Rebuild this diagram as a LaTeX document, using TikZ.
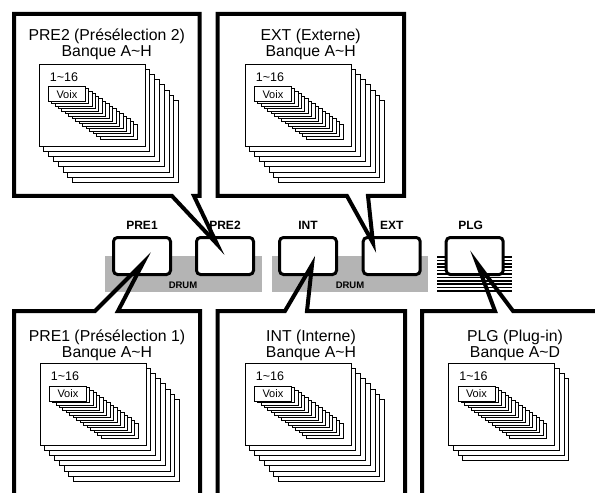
\documentclass[tikz,border=0pt]{standalone}
\usepackage{fontspec}
\setmainfont{Liberation Sans}
\usepackage{tikz}
\usetikzlibrary{positioning}
\definecolor{drumgray}{RGB}{180,180,180}

% one bank: front card at (#2,#3), #4 cards behind it
\newcommand{\bankstack}[4]{%
  \foreach \k in {#4,...,1}
    \draw[card] ({#2+4.8*\k},{#3+5.2*\k}) rectangle +(106,82);
  \draw[card] (#2,#3) rectangle +(106,82);
  \node[numtext] (#1-num) at ({#2+25},{#3+13}) {1\textasciitilde 16};
  \foreach \v in {15,...,1}
    \draw[voicecard] ({#2+9+3.47*\v},{#3+22+2.53*\v}) rectangle +(37,15);
  \node[voicecard, voixbox] (#1-voix) at ({#2+9},{#3+22.5}) {Voix};
}

\begin{document}
\begin{tikzpicture}[
  x=1bp, y=-1bp,
  btn/.style={draw, fill=white, line width=3bp, rounded corners=4bp,
    minimum width=57bp, minimum height=37bp, inner sep=0pt},
  btnlabel/.style={font=\fontsize{12bp}{12bp}\selectfont\bfseries, inner sep=0pt},
  drumlabel/.style={font=\fontsize{9.5bp}{9.5bp}\selectfont\bfseries, inner sep=0pt},
  callout/.style={line width=4bp, line join=miter},
  title/.style={font=\fontsize{15.8bp}{17bp}\selectfont, anchor=base, inner sep=0pt},
  card/.style={draw, fill=white, line width=0.9bp},
  voicecard/.style={draw, fill=white, line width=0.8bp},
  voixbox/.style={anchor=north west, minimum width=37bp, minimum height=15bp,
    inner sep=0pt, font=\fontsize{11bp}{11bp}\selectfont},
  numtext/.style={font=\fontsize{12.5bp}{12.5bp}\selectfont, inner sep=0pt},
  stripe/.style={line width=1.6bp}
]
\useasboundingbox (0,0) rectangle (595,493);
\clip (0,0) rectangle (595,493);

% DRUM bands and plug-in stripes
\fill[drumgray] (105,256) rectangle (262,292);
\fill[drumgray] (272,256) rectangle (428,292);
\node[drumlabel] (drum1) at (183,285) {DRUM};
\node[drumlabel] (drum2) at (350,285) {DRUM};
\foreach \s in {0,...,10}
  \draw[stripe] (437,{257+3.4*\s}) -- (512,{257+3.4*\s});

% buttons
\node[btn] (pre1) at (142,256) {};
\node[btn] (pre2) at (225,256) {};
\node[btn] (int) at (308,256) {};
\node[btn] (ext) at (391.7,256) {};
\node[btn] (plg) at (474.7,256) {};
\node[btnlabel, above=6.5bp of pre1] (pre1-lbl) {PRE1};
\node[btnlabel, above=6.5bp of pre2] (pre2-lbl) {PRE2};
\node[btnlabel, above=6.5bp of int] (int-lbl) {INT};
\node[btnlabel, above=6.5bp of ext] (ext-lbl) {EXT};
\node[btnlabel, above=6.5bp of plg, xshift=-4bp] (plg-lbl) {PLG};

\coordinate (pre1tip) at (143,263);
\coordinate (pre2tip) at (217,244);
\coordinate (inttip) at (312,265);
\coordinate (exttip) at (373,243);
\coordinate (plgtip) at (477,263);

% callouts, top row
\draw[callout] (172,196) -- (14,196) -- (14,14) -- (199.5,14) -- (199.5,196)
  -- (194,196) -- (pre2tip) -- cycle;
\draw[callout] (347,196) -- (217.5,196) -- (217.5,14) -- (404,14) -- (404,196)
  -- (368,196) -- (exttip) -- cycle;

% callouts, bottom row
\draw[callout] (14,500) -- (14,311) -- (95,311) -- (pre1tip) -- (118,311)
  -- (200,311) -- (200,500);
\draw[callout] (217.5,500) -- (217.5,311) -- (285,311) -- (inttip) -- (307,311)
  -- (405,311) -- (405,500);
\draw[callout] (422,500) -- (422,311) -- (495,311) -- (plgtip) -- (513,311)
  -- (620,311);

% titles
\node[title] (pre2-name) at (106.7,41) {PRE2 (Présélection 2)};
\node[title] (pre2-bank) at (106.7,57) {Banque A\textasciitilde H};
\node[title] (ext-name) at (310.7,41) {EXT (Externe)};
\node[title] (ext-bank) at (310.7,57) {Banque A\textasciitilde H};
\node[title] (pre1-name) at (107,341) {PRE1 (Présélection 1)};
\node[title] (pre1-bank) at (107,357) {Banque A\textasciitilde H};
\node[title] (int-name) at (311,341) {INT (Interne)};
\node[title] (int-bank) at (311,357) {Banque A\textasciitilde H};
\node[title] (plg-name) at (515,341) {PLG (Plug-in)};
\node[title] (plg-bank) at (515,357) {Banque A\textasciitilde D};

% banks
\bankstack{pre2}{39}{64}{7}
\bankstack{ext}{245}{64}{7}
\bankstack{pre1}{40}{363}{7}
\bankstack{int}{245}{363}{7}
\bankstack{plg}{448.5}{363}{3}
\end{tikzpicture}
\end{document}
